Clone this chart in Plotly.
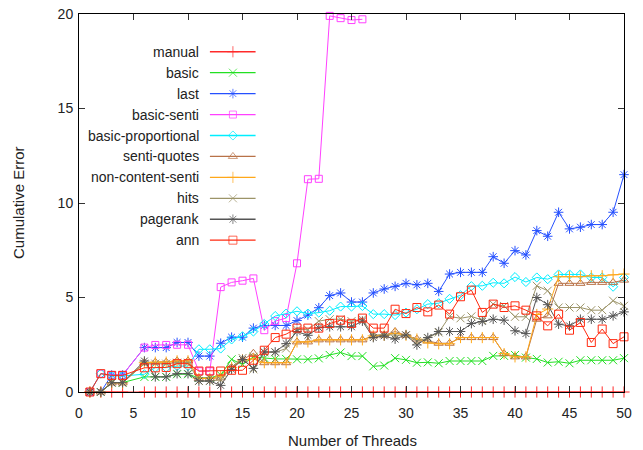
import plotly.graph_objects as go

threads = [1, 2, 3, 4, 6, 7, 8, 9, 10, 11, 12, 13, 14, 15, 16, 17, 18, 19, 20,
           21, 22, 23, 24, 25, 26, 27, 28, 29, 30, 31, 32, 33, 34, 35, 36, 37,
           38, 39, 40, 41, 42, 43, 44, 45, 46, 47, 48, 49, 50]

manual = [0] * 49

basic = [0, 0, 0.5, 0.5, 0.8, 0.8, 0.8, 0.94, 0.94, 0.75, 0.75, 0.9, 1.73, 1.45,
         1.86, 1.8, 1.75, 1.75, 1.73, 1.73, 1.78, 1.96, 2.09, 1.9, 1.9, 1.36, 1.4,
         1.79, 1.7, 1.55, 1.57, 1.52, 1.64, 1.64, 1.64, 1.64, 1.91, 1.91, 1.96,
         1.82, 1.75, 1.56, 1.6, 1.52, 1.68, 1.68, 1.68, 1.68, 1.79]

last = [0, 0, 0.9, 0.9, 2.35, 2.35, 2.35, 2.62, 2.62, 1.9, 1.9, 2.58, 2.9, 2.9,
        3.38, 3.52, 3.52, 3.52, 3.78, 4.07, 4.46, 5.1, 5.24, 4.76, 4.76, 5.24,
        5.45, 5.59, 5.75, 5.67, 5.75, 5.32, 6.24, 6.33, 6.33, 6.33, 7.16, 6.81,
        7.48, 7.25, 8.54, 8.24, 9.51, 8.63, 8.72, 8.86, 8.86, 9.51, 11.5]

basic_senti = [0, 0.97, 0.9, 0.9, 2.35, 2.49, 2.49, 2.5, 2.5, 1.1, 1.1, 5.55,
               5.8, 5.89, 6.01, 3.27, 3.75, 3.91, 6.81, 11.26, 11.28, 19.9,
               19.78, 19.68, 19.72] + [None] * 24

basic_proportional = [0, 0.97, 0.85, 0.85, 0.94, 1.29, 1.29, 1.37, 1.37, 2.26,
                      2.26, 2.3, 2.78, 2.95, 3.2, 3.6, 4.02, 4.15, 4.27, 4.15,
                      4.2, 4.3, 4.52, 4.52, 4.55, 4.12, 4.12, 4.07, 4.2, 4.38,
                      4.65, 4.7, 4.93, 5.12, 5.6, 5.62, 5.78, 5.75, 6.08, 5.82,
                      6.06, 5.97, 6.22, 6.22, 6.22, 6.06, 6.06, 5.57, 6.06]

senti_quotes = [0, 0, 0.48, 0.48, 1.55, 1.58, 1.58, 1.65, 1.65, 0.72, 0.72,
                0.75, 1.3, 1.7, 2.05, 1.55, 1.55, 1.55, 2.65, 2.65, 2.76, 2.76,
                2.76, 2.76, 2.76, 2.97, 3.0, 3.2, 3.0, 2.8, 2.7, 2.58, 2.58,
                2.88, 2.88, 2.88, 2.88, 2.03, 1.86, 1.86, 3.85, 4.03, 5.75,
                5.75, 5.75, 5.8, 5.8, 5.8, 5.92]

non_content_senti = [0, 0, 0.48, 0.48, 1.55, 1.58, 1.58, 1.65, 1.65, 0.72,
                     0.72, 0.85, 1.3, 1.7, 1.75, 1.55, 1.55, 1.55, 2.65, 2.65,
                     2.76, 2.76, 2.76, 2.76, 2.76, 2.97, 3.0, 3.1, 3.0, 2.8,
                     2.6, 2.55, 2.55, 2.88, 2.88, 2.88, 2.88, 2.03, 1.86, 1.86,
                     4.1, 4.39, 6.1, 6.1, 6.1, 6.15, 6.15, 6.2, 6.24]

hits = [0, 0, 0.48, 0.48, 1.5, 1.5, 1.5, 1.55, 1.55, 0.58, 0.58, 0.65, 1.3,
        1.8, 1.2, 2.1, 2.1, 2.3, 3.3, 3.3, 3.75, 3.85, 3.85, 3.75, 3.85, 3.0,
        3.05, 3.0, 3.0, 2.7, 2.85, 3.15, 4.0, 3.9, 4.0, 3.8, 4.65, 4.55, 3.98,
        3.98, 5.62, 5.36, 4.47, 4.47, 4.47, 4.33, 4.33, 4.83, 4.56]

pagerank = [0, 0, 0.49, 0.49, 1.64, 0.8, 0.8, 0.97, 0.97, 0.58, 0.58, 0.35,
            1.2, 1.72, 1.25, 2.12, 2.12, 2.56, 3.2, 3.0, 3.4, 3.45, 3.45, 3.45,
            3.75, 2.88, 2.97, 2.8, 3.02, 2.49, 2.88, 3.2, 3.2, 3.2, 3.62, 3.73,
            3.85, 3.8, 3.24, 3.09, 5.0, 4.62, 3.59, 3.5, 3.85, 3.85, 3.85,
            4.03, 4.24]

ann = [0, 0.97, 0.88, 0.88, 1.28, 1.28, 1.3, 1.5, 1.5, 1.11, 1.11, 1.11, 1.15,
       1.15, 1.68, 2.21, 2.88, 3.06, 3.38, 3.38, 3.38, 3.62, 3.8, 3.63, 3.91,
       3.38, 3.38, 4.38, 4.15, 4.47, 4.24, 4.6, 4.12, 5.04, 5.39, 4.21, 4.65,
       4.47, 4.56, 4.33, 4.03, 3.5, 4.12, 3.27, 3.68, 2.62, 3.33, 2.56, 2.92]

series_names = ["manual", "basic", "last", "basic-senti", "basic-proportional",
                "senti-quotes", "non-content-senti", "hits", "pagerank", "ann"]
series_values = [manual, basic, last, basic_senti, basic_proportional,
                 senti_quotes, non_content_senti, hits, pagerank, ann]

x_title = "Number of Threads"
y_title = "Cumulative Error"

colors = ["#ff2a2a", "#22e022", "#2550ff", "#ff40ff", "#00eeff",
          "#b87248", "#ffa81a", "#9c9468", "#555555", "#ff2a10"]
symbols = ["cross-thin", "x-thin", "asterisk-open", "square-open",
           "diamond-open", "triangle-up-open", "cross-thin", "x-thin",
           "asterisk-open", "square-open"]
sizes = [8, 8, 8, 7, 7, 8, 8, 8, 8, 8]

FAMILY = "Liberation Sans, Arial, sans-serif"

fig = go.Figure()
for name, vals, c, s, sz in zip(series_names, series_values, colors, symbols, sizes):
    fig.add_trace(go.Scatter(
        x=threads, y=vals, name=name, mode="lines+markers",
        line=dict(color=c, width=1),
        marker=dict(symbol=s, size=sz, color=c, line=dict(color=c, width=1)),
        showlegend=False, cliponaxis=False, connectgaps=False,
    ))

# custom gnuplot-style key (text right-aligned, sample to the right)
key_text_x = 0.2237
key_line = [0.2402, 0.2824, 0.324]
key_top = 0.9001
key_step = 0.05538
annotations = []
for i, (name, c, s, sz) in enumerate(zip(series_names, colors, symbols, sizes)):
    yy = key_top - key_step * i
    fig.add_trace(go.Scatter(
        x=key_line, y=[yy, yy, yy], xaxis="x2", yaxis="y2",
        mode="lines+markers", showlegend=False, hoverinfo="skip",
        line=dict(color=c, width=1.3),
        marker=dict(symbol=s, size=[0, sz, 0], color=c, line=dict(color=c, width=1)),
    ))
    annotations.append(dict(
        x=key_text_x, y=yy, xref="x2", yref="y2", text=name, showarrow=False,
        xanchor="right", yanchor="middle",
        font=dict(family=FAMILY, size=14, color="#222"),
    ))

title_font = dict(family=FAMILY, size=15, color="#222")
annotations.append(dict(x=0.501, y=-0.1296, xref="paper", yref="paper",
                        text=x_title, showarrow=False, xanchor="center",
                        yanchor="middle", font=title_font))
annotations.append(dict(x=-0.1119, y=0.5, xref="paper", yref="paper",
                        text=y_title, showarrow=False, xanchor="center",
                        yanchor="middle", textangle=-90, font=title_font))

font = dict(family=FAMILY, size=14, color="#222")
axis_common = dict(
    showline=True, linecolor="black", linewidth=1, mirror="ticks",
    ticks="inside", ticklen=6, tickcolor="#333", tickwidth=1,
    showgrid=False, zeroline=False, tickfont=font, automargin=False,
    ticklabeloverflow="allow",
)
fig.update_layout(
    width=643, height=450,
    margin=dict(l=79, r=19, t=14, b=58),
    plot_bgcolor="white", paper_bgcolor="white",
    font=font,
    xaxis=dict(range=[0, 50], tick0=0, dtick=5, ticklabelstandoff=8, **axis_common),
    yaxis=dict(range=[0, 20], tick0=0, dtick=5, ticklabelstandoff=2, **axis_common),
    xaxis2=dict(overlaying="x", range=[0, 1], visible=False, fixedrange=True),
    yaxis2=dict(overlaying="y", range=[0, 1], visible=False, fixedrange=True),
    annotations=annotations,
    showlegend=False,
)
# remove the default page margin so the 643x450 figure fills the window exactly
fig.write_html(
    "out.html",
    config={"displayModeBar": False},
    post_script="document.body.style.margin='0';document.body.style.overflow='hidden';",
)
